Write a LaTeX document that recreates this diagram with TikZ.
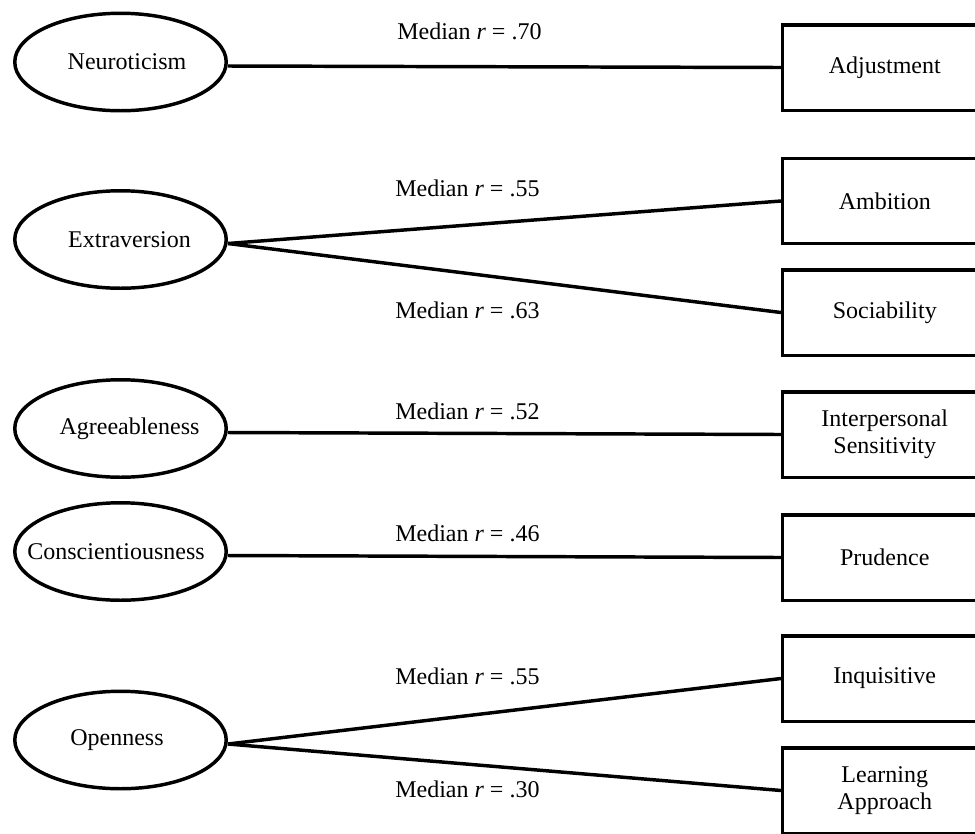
\documentclass[tikz,border=0pt]{standalone}
\usepackage{fontspec}
\setmainfont{Liberation Serif}
\usetikzlibrary{shapes.geometric}
\begin{document}
\begin{tikzpicture}[x=0.75pt,y=-0.75pt,
  every node/.style={font=\fontsize{18}{20.5}\selectfont},
  trait/.style={draw,ellipse,line width=2.6pt,minimum width=158.6pt,minimum height=73.1pt,inner sep=0pt},
  facet/.style={draw,rectangle,line width=2.6pt,minimum width=153pt,minimum height=64.1pt,inner sep=0pt,align=center},
  link/.style={line width=2.6pt},
  rlab/.style={anchor=base west,inner sep=0pt}]
\useasboundingbox (0,0) rectangle (975,833);
% traits
\node[trait] (neu) at (120.5,62) {\makebox[0pt]{\hspace*{9.75pt}Neuroticism}};
\node[trait] (ext) at (120.5,239.5) {\makebox[0pt]{\hspace*{13.5pt}Extraversion}};
\node[trait] (agr) at (120.5,428.5) {\makebox[0pt]{\hspace*{13.5pt}Agreeableness}};
\node[trait] (con) at (120.5,551.5) {\makebox[0pt]{Conscientiousness\hspace*{6.75pt}}};
\node[trait] (ope) at (120.5,740) {\makebox[0pt]{Openness\hspace*{5.25pt}}};
% facets
\node[facet] (adj) at (884.75,67.5) {Adjustment};
\node[facet] (amb) at (884.75,201) {Ambition};
\node[facet] (soc) at (884.75,312.5) {Sociability};
\node[facet] (int) at (884.75,434.5) {Interpersonal\\Sensitivity};
\node[facet] (pru) at (884.75,557.5) {Prudence};
\node[facet] (inq) at (884.75,678.5) {Inquisitive};
\node[facet] (lea) at (884.75,790.5) {Learning\\Approach};
% links
\draw[link] ([yshift=-3pt]neu.east) -- (adj.west);
\draw[link] ([yshift=-3pt]ext.east) -- (amb.west);
\draw[link] ([yshift=-3pt]ext.east) -- (soc.west);
\draw[link] ([yshift=-3pt]agr.east) -- (int.west);
\draw[link] ([yshift=-3pt]con.east) -- (pru.west);
\draw[link] ([yshift=-3pt]ope.east) -- (inq.west);
\draw[link] ([yshift=-3pt]ope.east) -- (lea.west);
% labels
\node[rlab] (l1) at (397,39) {Median \textit{r} = .70};
\node[rlab] (l2) at (395,196) {Median \textit{r} = .55};
\node[rlab] (l3) at (395,318) {Median \textit{r} = .63};
\node[rlab] (l4) at (395,419) {Median \textit{r} = .52};
\node[rlab] (l5) at (395,541) {Median \textit{r} = .46};
\node[rlab] (l6) at (395,684) {Median \textit{r} = .55};
\node[rlab] (l7) at (395,797) {Median \textit{r} = .30};
\end{tikzpicture}
\end{document}
